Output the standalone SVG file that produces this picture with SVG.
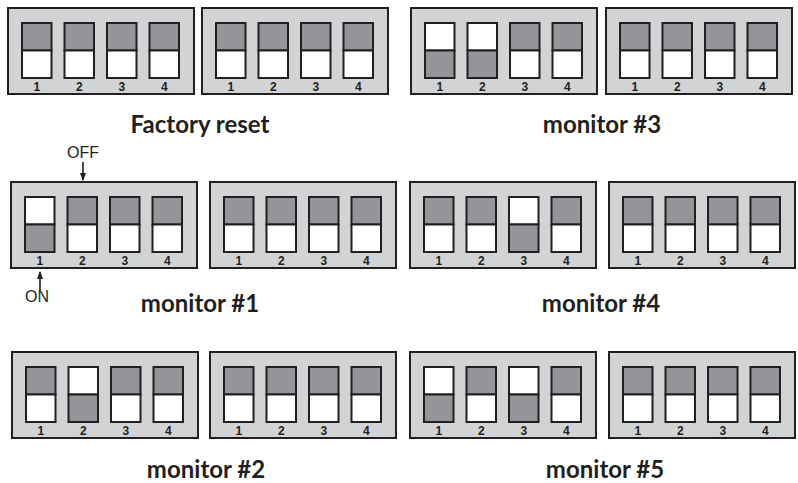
<svg xmlns="http://www.w3.org/2000/svg" xmlns:xlink="http://www.w3.org/1999/xlink" width="798" height="483" viewBox="0 0 798 483">
<style>
.box{fill:#d1d3d4;stroke:#231f20;stroke-width:2}
.sw{stroke:#231f20;stroke-width:2}
.g{fill:#939598}
.w{fill:#ffffff}
.num{font-family:"Liberation Sans",Arial,sans-serif;font-weight:bold;font-size:12px;fill:#231f20;text-anchor:middle}
.lbl{font-family:Lato,"Open Sans",sans-serif;font-weight:bold;font-size:24px;fill:#231f20;text-anchor:middle}
.note{font-family:"Liberation Sans",Arial,sans-serif;font-size:16px;fill:#231f20;text-anchor:middle}
.arr{stroke:#231f20;stroke-width:1.6;fill:none}
</style>
<defs>
<g id="off">
<rect class="sw g" x="0" y="0" width="29.5" height="27.5"/>
<rect class="sw w" x="0" y="27.5" width="29.5" height="27.5"/>
</g>
<g id="on">
<rect class="sw w" x="0" y="0" width="29.5" height="27.5"/>
<rect class="sw g" x="0" y="27.5" width="29.5" height="27.5"/>
</g>
<g id="frame">
<rect class="box" x="0" y="0" width="186" height="86"/>
<text class="num" x="28.75" y="82.5">1</text>
<text class="num" x="71.25" y="82.5">2</text>
<text class="num" x="113.75" y="82.5">3</text>
<text class="num" x="156.25" y="82.5">4</text>
</g>
<g id="allOff">
<use xlink:href="#frame"/>
<use xlink:href="#off" x="14" y="15"/>
<use xlink:href="#off" x="56.5" y="15"/>
<use xlink:href="#off" x="99" y="15"/>
<use xlink:href="#off" x="141.5" y="15"/>
</g>
<marker id="ah" markerWidth="8" markerHeight="10" refX="7" refY="4" orient="auto" markerUnits="userSpaceOnUse">
<path d="M0,1 L8,4 L0,7 Z" fill="#231f20"/>
</marker>
</defs>

<g id="factory-reset">
<use xlink:href="#allOff" x="8" y="8"/>
<use xlink:href="#allOff" x="202" y="8"/>
<text class="lbl" x="200" y="133">Factory reset</text>
</g>

<g id="monitor3">
<g transform="translate(411,8)">
<use xlink:href="#frame"/>
<use xlink:href="#on" x="14" y="15"/>
<use xlink:href="#on" x="56.5" y="15"/>
<use xlink:href="#off" x="99" y="15"/>
<use xlink:href="#off" x="141.5" y="15"/>
</g>
<use xlink:href="#allOff" x="606" y="8"/>
<text class="lbl" x="602" y="133">monitor #3</text>
</g>

<g id="monitor1">
<g transform="translate(11,182)">
<use xlink:href="#frame"/>
<use xlink:href="#on" x="14" y="15"/>
<use xlink:href="#off" x="56.5" y="15"/>
<use xlink:href="#off" x="99" y="15"/>
<use xlink:href="#off" x="141.5" y="15"/>
</g>
<use xlink:href="#allOff" x="210" y="182"/>
<text class="lbl" x="200" y="312">monitor #1</text>
</g>

<g id="monitor4">
<g transform="translate(410,182)">
<use xlink:href="#frame"/>
<use xlink:href="#off" x="14" y="15"/>
<use xlink:href="#off" x="56.5" y="15"/>
<use xlink:href="#on" x="99" y="15"/>
<use xlink:href="#off" x="141.5" y="15"/>
</g>
<use xlink:href="#allOff" x="609" y="182"/>
<text class="lbl" x="601" y="312">monitor #4</text>
</g>

<g id="monitor2">
<g transform="translate(12,352)">
<use xlink:href="#frame"/>
<use xlink:href="#off" x="14" y="15"/>
<use xlink:href="#on" x="56.5" y="15"/>
<use xlink:href="#off" x="99" y="15"/>
<use xlink:href="#off" x="141.5" y="15"/>
</g>
<use xlink:href="#allOff" x="210" y="352"/>
<text class="lbl" x="206" y="478">monitor #2</text>
</g>

<g id="monitor5">
<g transform="translate(410,352)">
<use xlink:href="#frame"/>
<use xlink:href="#on" x="14" y="15"/>
<use xlink:href="#off" x="56.5" y="15"/>
<use xlink:href="#on" x="99" y="15"/>
<use xlink:href="#off" x="141.5" y="15"/>
</g>
<use xlink:href="#allOff" x="609" y="352"/>
<text class="lbl" x="605" y="478">monitor #5</text>
</g>

<g id="connectors">
<line class="arr" x1="83" y1="162" x2="83" y2="180" marker-end="url(#ah)"/>
<line class="arr" x1="40" y1="290" x2="40" y2="272" marker-end="url(#ah)"/>
</g>
<g id="annotations">
<text class="note" x="83" y="158">OFF</text>
<text class="note" x="37" y="302">ON</text>
</g>
</svg>
